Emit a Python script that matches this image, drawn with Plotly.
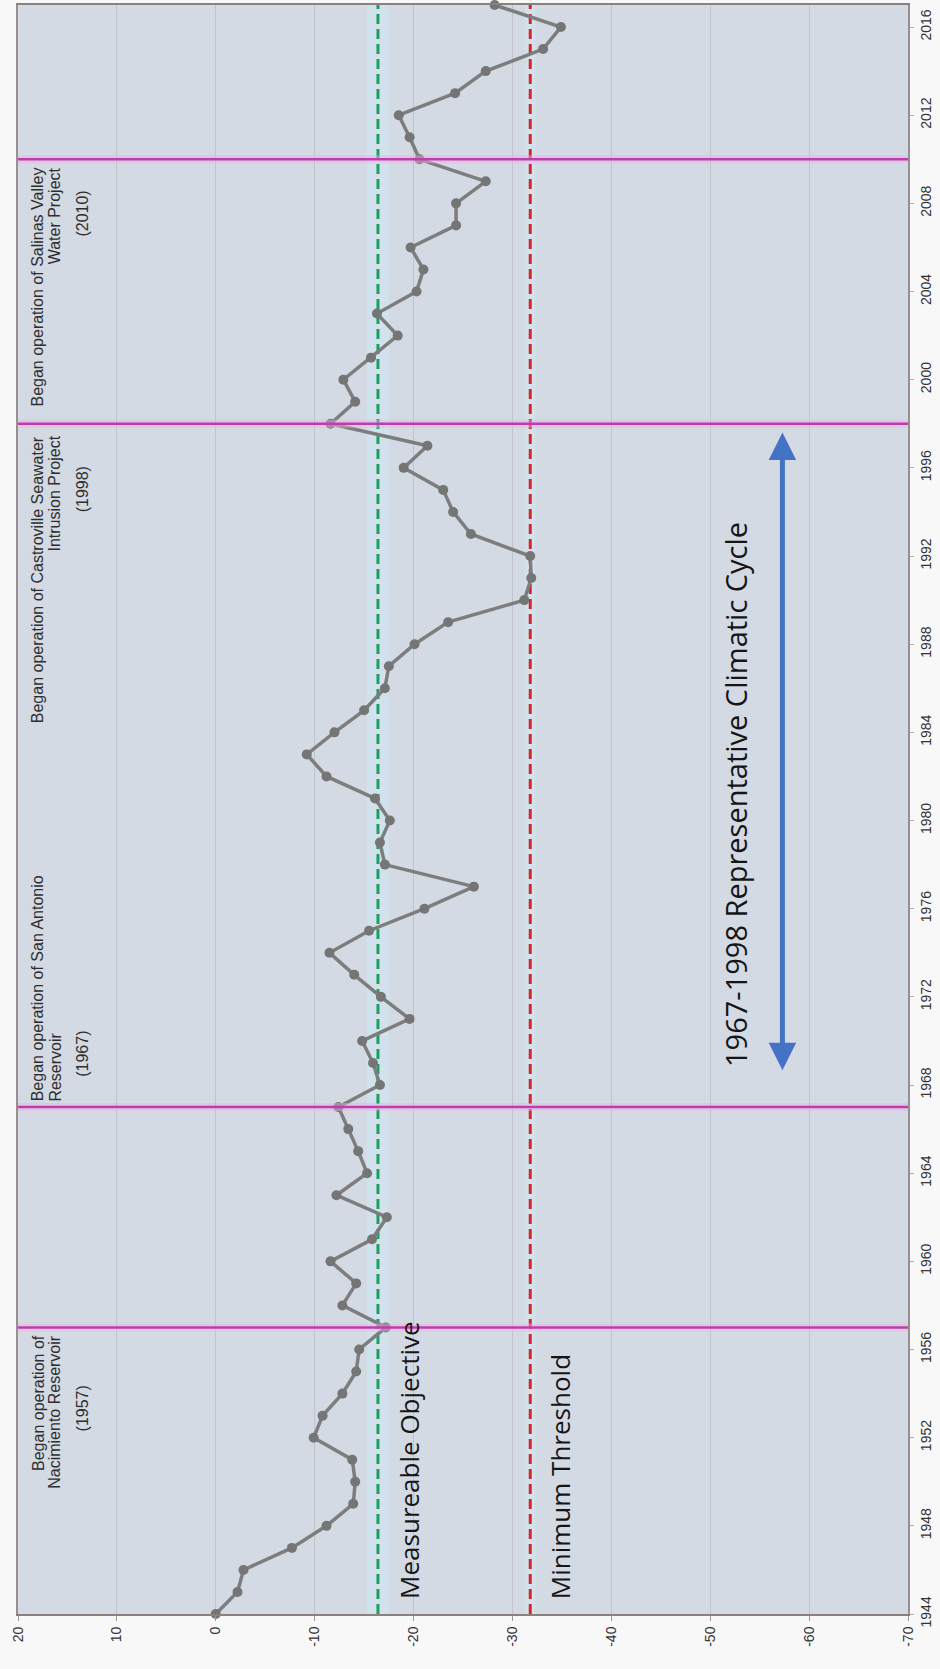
import plotly.graph_objects as go

# Annual groundwater elevation (ft) along the year axis
years = list(range(1944, 2018))
levels = [0.0, -2.2, -2.8, -7.7, -11.2, -13.9, -14.1, -13.8, -9.9, -10.8,
          -12.8, -14.2, -14.5, -17.2, -12.8, -14.2, -11.6, -15.8, -17.3, -12.2,
          -15.3, -14.4, -13.4, -12.4, -16.6, -15.9, -14.8, -19.6, -16.7, -14.0,
          -11.5, -15.5, -21.1, -26.1, -17.1, -16.6, -17.6, -16.1, -11.2, -9.2,
          -12.0, -15.0, -17.1, -17.5, -20.1, -23.5, -31.2, -31.9, -31.8, -25.8,
          -24.0, -23.0, -19.0, -21.4, -11.6, -14.1, -12.9, -15.7, -18.4, -16.3,
          -20.3, -21.0, -19.7, -24.3, -24.3, -27.3, -20.6, -19.6, -18.5, -24.2,
          -27.3, -33.1, -34.9, -28.2]

event_years = [1957, 1967, 1998, 2010]
measurable_objective = -16.4
minimum_threshold = -31.8
cycle_start, cycle_end = 1967, 1998

value_ticks = [20, 10, 0, -10, -20, -30, -40, -50, -60, -70]
value_ticktext = [str(v) for v in value_ticks]
year_ticks = list(range(1944, 2017, 4))

X_RANGE = [20, -70]
Y_RANGE = [1944, 2017]

LABEL_FONT = "Liberation Sans, Arial, sans-serif"
BIG_FONT = "Open Sans, sans-serif"

fig = go.Figure()

# Threshold lines (soft halo + dashed core)
for val, col, halo_w in [(measurable_objective, "#1f9e63", 22),
                         (minimum_threshold, "#d8252a", 10)]:
    fig.add_trace(go.Scatter(x=[val, val], y=Y_RANGE, mode="lines",
                             line=dict(color="rgba(208,232,244,0.6)", width=halo_w),
                             hoverinfo="skip", showlegend=False))
    fig.add_trace(go.Scatter(x=[val, val], y=Y_RANGE, mode="lines",
                             line=dict(color=col, width=3, dash="10px,5px"),
                             hoverinfo="skip", showlegend=False))

# Water level series
fig.add_trace(go.Scatter(
    x=levels, y=years, mode="lines+markers",
    line=dict(color="#7d7d7d", width=3.5),
    marker=dict(color="#757575", size=10),
    cliponaxis=False, showlegend=False))

# Event lines (drawn on top)
for yr in event_years:
    fig.add_shape(type="line", xref="x", yref="y", x0=X_RANGE[0], x1=X_RANGE[1],
                  y0=yr, y1=yr, layer="above",
                  line=dict(color="rgba(232,178,224,0.45)", width=8))
    fig.add_shape(type="line", xref="x", yref="y", x0=X_RANGE[0], x1=X_RANGE[1],
                  y0=yr, y1=yr, layer="above",
                  line=dict(color="#c03cae", width=2.5))

annotations = []

def event_label(text, x, y, yanchor):
    annotations.append(dict(text=text, x=x, y=y, xref="x", yref="y",
                            xanchor="center", yanchor=yanchor, textangle=-90,
                            showarrow=False,
                            font=dict(family=LABEL_FONT, size=16, color="#2e2e2e")))

# Event descriptions: three stacked lines each
event_label("Began operation of", 18.0, 1956.74, "top")
event_label("Nacimiento Reservoir", 16.3, 1956.74, "top")
event_label("(1957)", 13.5, 1953.34, "middle")

event_label("Began operation of San Antonio", 18.0, 1967.16, "bottom")
event_label("Reservoir", 16.3, 1967.16, "bottom")
event_label("(1967)", 13.5, 1969.43, "middle")

event_label("Began operation of Castroville Seawater", 18.0, 1997.54, "top")
event_label("Intrusion Project", 16.3, 1997.54, "top")
event_label("(1998)", 13.5, 1995.04, "middle")

event_label("Began operation of Salinas Valley", 18.0, 2009.73, "top")
event_label("Water Project", 16.3, 2009.73, "top")
event_label("(2010)", 13.5, 2007.55, "middle")

# Threshold labels
annotations.append(dict(text="Measureable Objective", x=-19.6, y=1944.6,
                        xref="x", yref="y", xanchor="center", yanchor="bottom",
                        textangle=-90, showarrow=False,
                        font=dict(family=BIG_FONT, size=26, color="#151515")))
annotations.append(dict(text="Minimum Threshold", x=-34.8, y=1944.6,
                        xref="x", yref="y", xanchor="center", yanchor="bottom",
                        textangle=-90, showarrow=False,
                        font=dict(family=BIG_FONT, size=26, color="#151515")))

# Representative climatic cycle
annotations.append(dict(text="1967-1998 Representative Climatic Cycle",
                        x=-52.5, y=(cycle_start + cycle_end) / 2 - 1.3,
                        xref="x", yref="y", xanchor="center", yanchor="middle",
                        textangle=-90, showarrow=False,
                        font=dict(family=BIG_FONT, size=29, color="#151515")))
annotations.append(dict(text="", x=-57.3, y=cycle_end - 0.4, xref="x", yref="y",
                        ax=-57.3, ay=cycle_start + 1.6, axref="x", ayref="y",
                        showarrow=True, arrowhead=2, arrowside="end+start",
                        arrowsize=1.1, arrowwidth=5, arrowcolor="#4472c4",
                        standoff=0, startstandoff=0))

fig.update_layout(
    width=940, height=1669,
    margin=dict(l=18, r=32, t=3, b=55),
    paper_bgcolor="#f8f8f9",
    plot_bgcolor="#d3dae4",
    annotations=annotations,
    showlegend=False,
    xaxis=dict(range=X_RANGE, tickvals=value_ticks, ticktext=value_ticktext,
               tickangle=-90, showgrid=True, gridcolor="#bfc3ca", gridwidth=1,
               zeroline=False, showline=True, linecolor="#8a817e", linewidth=2,
               mirror=True, ticks="outside", ticklen=5, tickcolor="#9a9a9a",
               tickfont=dict(family=LABEL_FONT, size=14, color="#333333")),
    yaxis=dict(range=Y_RANGE, tickvals=year_ticks, side="right",
               tickangle=-90, showgrid=False, zeroline=False,
               showline=True, linecolor="#9a8f8f", linewidth=1.5, mirror=True,
               ticks="outside", ticklen=4, tickcolor="#b0b0b0",
               tickfont=dict(family=LABEL_FONT, size=14, color="#333333")),
)

fig.write_html("out.html")
